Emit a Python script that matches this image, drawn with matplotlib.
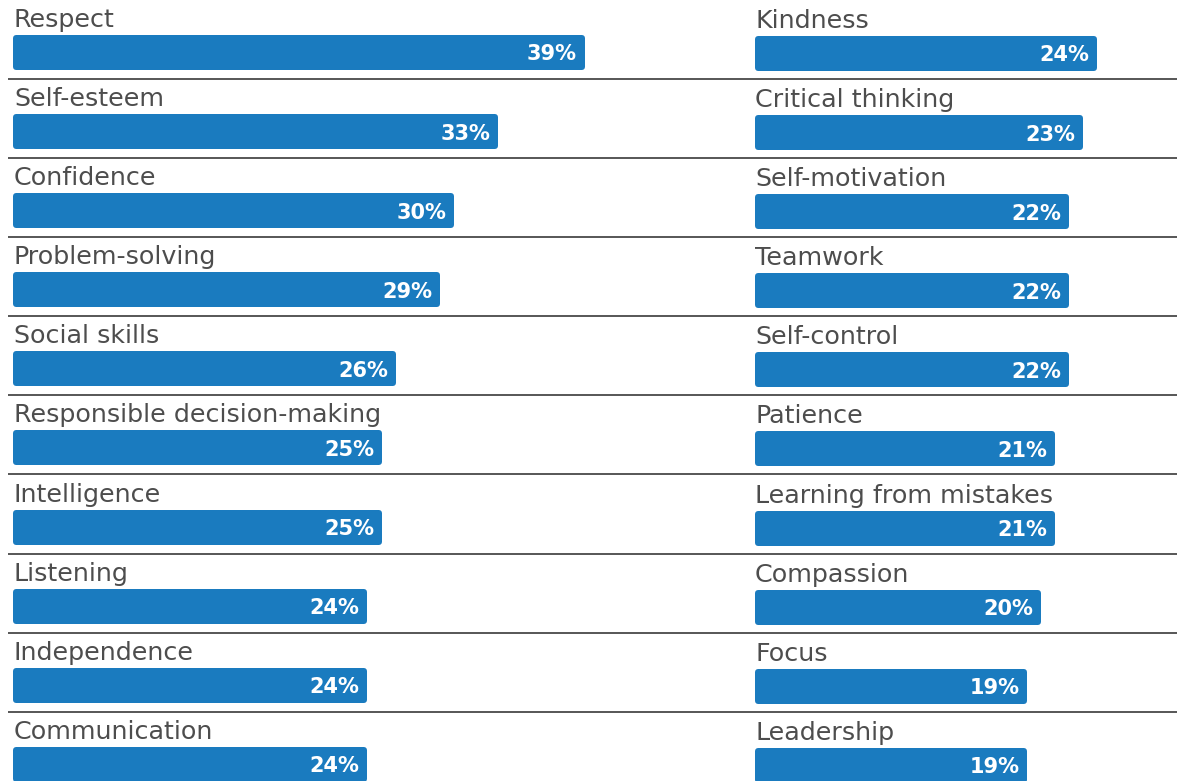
import matplotlib
matplotlib.use('Agg')
import matplotlib.pyplot as plt

# Data
left_labels = ['Respect', 'Self-esteem', 'Confidence', 'Problem-solving', 'Social skills',
               'Responsible decision-making', 'Intelligence', 'Listening', 'Independence',
               'Communication']
left_values = [39, 33, 30, 29, 26, 25, 25, 24, 24, 24]

right_labels = ['Kindness', 'Critical thinking', 'Self-motivation', 'Teamwork', 'Self-control',
                'Patience', 'Learning from mistakes', 'Compassion', 'Focus', 'Leadership']
right_values = [24, 23, 22, 22, 22, 21, 21, 20, 19, 19]

BAR_COLOR = '#1a7bbf'
TEXT_COLOR = '#4d4d4d'
LINE_COLOR = '#5a5a5a'

W, H = 1179, 781
DPI = 100
PITCH = 79.1          # px between rows
BAR_CENTER0 = 52.5    # px from top, first bar centre
EDGE_PX = 6           # rounded edge stroke width in px
FILL_PX = 35 - EDGE_PX

fig = plt.figure(figsize=(W / DPI, H / DPI), dpi=DPI)
fig.patch.set_facecolor('white')


def draw_column(rect, labels, values, px_start, px_per_pct, y_shift, label_dx):
    ax = fig.add_axes(rect)
    ax_w = rect[2] * W
    ax.set_xlim(-px_start / px_per_pct, (ax_w - px_start) / px_per_pct)
    top = -(BAR_CENTER0 + y_shift) / PITCH
    bottom = (H - BAR_CENTER0 - y_shift) / PITCH
    ax.set_ylim(bottom, top)
    ax.axis('off')

    rows = list(range(len(labels)))
    ax.barh(rows, values, height=FILL_PX / PITCH, color=BAR_COLOR,
            edgecolor=BAR_COLOR, linewidth=EDGE_PX * 72 / DPI,
            joinstyle='round', zorder=2)

    for i, (lab, val) in enumerate(zip(labels, values)):
        ax.text(label_dx / px_per_pct, i - (17.5 + 8) / PITCH, lab, fontsize=18.3,
                color=TEXT_COLOR, ha='left', va='baseline')
        ax.annotate(f'{val}%', xy=(val, i), xytext=(-4.5 * 72 / DPI, 0),
                    textcoords='offset points', ha='right', va='center_baseline',
                    fontsize=15, fontweight='bold', color='white', zorder=3)
    return ax


half = 0.5
ax_l = draw_column([0, 0, half, 1], left_labels, left_values, px_start=16, px_per_pct=14.5,
                   y_shift=0, label_dx=-2)
draw_column([half, 0, half, 1], right_labels, right_values, px_start=758 - W * half,
            px_per_pct=14.0, y_shift=1, label_dx=-3)

# separators run across both columns
seps = [i + (79 - BAR_CENTER0) / PITCH for i in range(len(left_labels) - 1)]
ax_l.hlines(seps, (8 - 16) / 14.5, (1177 - 16) / 14.5, color=LINE_COLOR,
            linewidth=2 * 72 / DPI, zorder=1, clip_on=False)

fig.savefig('out.png', dpi=DPI, facecolor='white')
